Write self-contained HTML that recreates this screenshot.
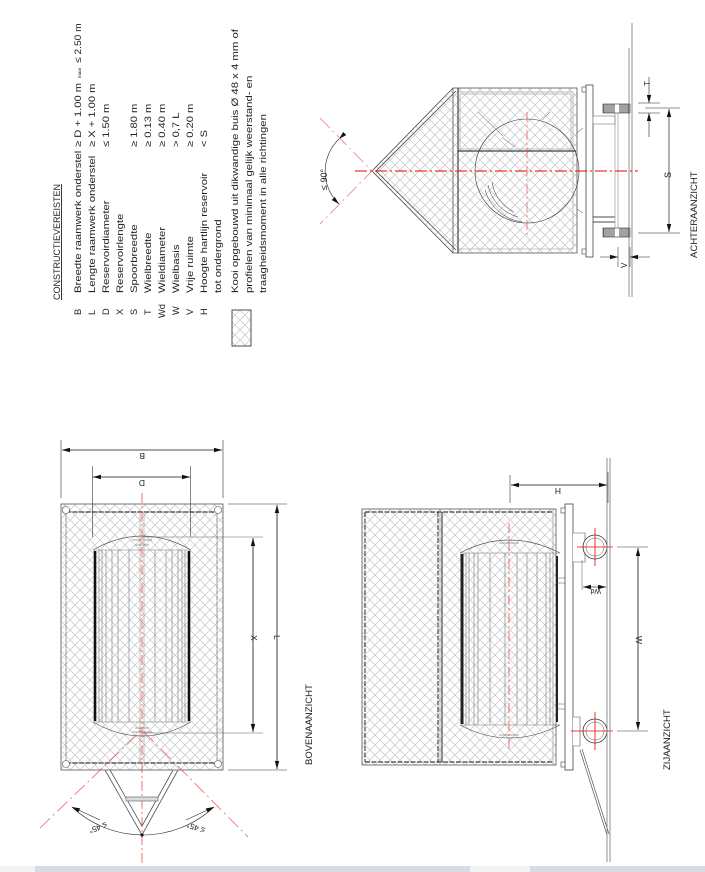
<!DOCTYPE html>
<html><head><meta charset="utf-8"><style>
html,body{margin:0;padding:0;background:#fff;}
svg{display:block;}
text{font-family:"Liberation Sans",sans-serif;fill:#222;}
</style></head><body>
<svg width="705" height="872" viewBox="0 0 705 872" xmlns="http://www.w3.org/2000/svg">
<defs>
<pattern id="h" width="10" height="10" patternUnits="userSpaceOnUse">
<path d="M0,0 L10,10 M10,0 L0,10" stroke="#c6c6c6" stroke-width="0.7" fill="none"/>
</pattern>
<marker id="a" markerWidth="8" markerHeight="6" refX="8" refY="3" orient="auto" markerUnits="userSpaceOnUse">
<path d="M0,0.8 L8,3 L0,5.2z" fill="#111"/>
</marker>
</defs>

<!-- ===== TEXT LEGEND ===== -->
<g font-size="9.3">
<text transform="translate(60,300) rotate(-90)" font-size="9" text-decoration="underline">CONSTRUCTIEVEREISTEN</text>
<g>
<text transform="translate(81,315) rotate(-90)">B</text>
<text transform="translate(95,315) rotate(-90)">L</text>
<text transform="translate(109,315) rotate(-90)">D</text>
<text transform="translate(123,315) rotate(-90)">X</text>
<text transform="translate(137,315) rotate(-90)">S</text>
<text transform="translate(151,315) rotate(-90)">T</text>
<text transform="translate(165,318) rotate(-90)">Wd</text>
<text transform="translate(179,315) rotate(-90)">W</text>
<text transform="translate(193,315) rotate(-90)">V</text>
<text transform="translate(207,315) rotate(-90)">H</text>
</g>
<g>
<text transform="translate(81,293) rotate(-90) scale(1.22,1)">Breedte raamwerk onderstel</text>
<text transform="translate(95,293) rotate(-90) scale(1.22,1)">Lengte raamwerk onderstel</text>
<text transform="translate(109,293) rotate(-90) scale(1.22,1)">Reservoirdiameter</text>
<text transform="translate(123,293) rotate(-90) scale(1.22,1)">Reservoirlengte</text>
<text transform="translate(137,293) rotate(-90) scale(1.22,1)">Spoorbreedte</text>
<text transform="translate(151,293) rotate(-90) scale(1.22,1)">Wielbreedte</text>
<text transform="translate(165,293) rotate(-90) scale(1.22,1)">Wieldiameter</text>
<text transform="translate(179,293) rotate(-90) scale(1.22,1)">Wielbasis</text>
<text transform="translate(193,293) rotate(-90) scale(1.22,1)">Vrije ruimte</text>
<text transform="translate(207,293) rotate(-90) scale(1.22,1)">Hoogte hartlijn reservoir</text>
<text transform="translate(221,293) rotate(-90) scale(1.22,1)">tot ondergrond</text>
<text transform="translate(238,293) rotate(-90) scale(1.22,1)">Kooi opgebouwd uit dikwandige buis Ø 48 x 4 mm of</text>
<text transform="translate(252,293) rotate(-90) scale(1.22,1)">profielen van minimaal gelijk weerstand- en</text>
<text transform="translate(266,293) rotate(-90) scale(1.22,1)">traagheidsmoment in alle richtingen</text>
</g>
<g>
<text transform="translate(81,147) rotate(-90) scale(1.2,1)">≥ D + 1.00 m</text>
<text transform="translate(81,78) rotate(-90)" font-size="4.5">maar</text>
<text transform="translate(81,63) rotate(-90) scale(1.1,1)">≤ 2.50 m</text>
<text transform="translate(95,147) rotate(-90) scale(1.2,1)">≥ X + 1.00 m</text>
<text transform="translate(109,147) rotate(-90) scale(1.2,1)">≤ 1.50 m</text>
<text transform="translate(137,147) rotate(-90) scale(1.2,1)">≥ 1.80 m</text>
<text transform="translate(151,147) rotate(-90) scale(1.2,1)">≥ 0.13 m</text>
<text transform="translate(165,147) rotate(-90) scale(1.2,1)">≥ 0.40 m</text>
<text transform="translate(179,147) rotate(-90) scale(1.2,1)">&gt; 0,7 L</text>
<text transform="translate(193,147) rotate(-90) scale(1.2,1)">≥ 0.20 m</text>
<text transform="translate(207,147) rotate(-90) scale(1.2,1)">&lt; S</text>
</g>
</g>
<rect x="232" y="310" width="19" height="36" fill="url(#h)" stroke="#222" stroke-width="0.8"/>

<!-- ===== ACHTERAANZICHT (rear view) ===== -->
<g>
<polygon points="372,171 453,88 453,253" fill="url(#h)"/>
<path d="M372,171 L453,88 M376,171 L456,91 M372,171 L453,253 M376,171 L456,250" stroke="#444" stroke-width="0.8" fill="none"/>
<rect x="453" y="88" width="124" height="165" fill="url(#h)" stroke="#555" stroke-width="0.8"/>
<rect x="458" y="92" width="115" height="157" fill="none" stroke="#aaa" stroke-width="0.7"/>
<rect x="460" y="94" width="111" height="55" fill="none" stroke="#999" stroke-width="0.6"/>
<path d="M458,88 L458,253 M458,151 L576,151" stroke="#111" stroke-width="0.9"/>
<circle cx="527" cy="171" r="52" fill="none" stroke="#333" stroke-width="0.6"/>
<path d="M485,190 A45,45 0 0 0 522,222 M488,185 A42,42 0 0 0 518,217 M492,182 A40,40 0 0 0 514,212" stroke="#333" stroke-width="0.5" fill="none"/>
<path d="M478,112 L503,136 M503,138 L515,147 M542,120 L550,112" stroke="#444" stroke-width="0.5"/>
<path d="M577,133 L583,128 M577,209 L583,213" stroke="#444" stroke-width="0.5"/>
<rect x="586" y="85" width="7" height="172" fill="#fff" stroke="#444" stroke-width="0.8"/>
<rect x="582" y="87" width="4" height="5" fill="#fff" stroke="#444" stroke-width="0.6"/>
<rect x="582" y="249" width="4" height="5" fill="#fff" stroke="#444" stroke-width="0.6"/>
<rect x="593" y="116" width="22" height="8" fill="#fff" stroke="#777" stroke-width="0.6"/>
<path d="M593,217 L615,217 M593,222 L615,222" stroke="#111" stroke-width="0.8"/>
<path d="M615,113 L615,228 M618,113 L618,228" stroke="#888" stroke-width="0.6"/>
<g stroke="#333" stroke-width="0.6">
<rect x="603" y="104" width="27" height="9" fill="#fff"/>
<rect x="603" y="228" width="27" height="9" fill="#fff"/>
<path d="M604,104v9M606,104v9M608,104v9M610,104v9M612,104v9M614,104v9M620,104v9M622,104v9M624,104v9M626,104v9M628,104v9M604,228v9M606,228v9M608,228v9M610,228v9M612,228v9M614,228v9M620,228v9M622,228v9M624,228v9M626,228v9M628,228v9" stroke-width="0.9"/>
</g>
<path d="M629,48 L629,297 M632,23 L632,297" stroke="#777" stroke-width="0.8"/>
<path d="M355,171 L638,171" stroke="#e00" stroke-width="1" stroke-dasharray="12,3,2,3"/>
<path d="M527,112 L527,235" stroke="#e33" stroke-width="0.6" stroke-dasharray="10,3,2,3"/>
<path d="M320,118 L372,171 L320,224" stroke="#f07070" stroke-width="0.7" stroke-dasharray="14,4,2,4" fill="none"/>
<path d="M339,139 A45,45 0 0 0 339,204" stroke="#222" stroke-width="0.6" fill="none" marker-start="url(#a)" marker-end="url(#a)"/>
<text transform="translate(327,190) rotate(-90)" font-size="9">≤ 90°</text>
<path d="M638,103 L660,103 M638,113 L660,113" stroke="#222" stroke-width="0.5"/>
<path d="M649,77 L649,103" stroke="#222" stroke-width="0.6" marker-end="url(#a)"/>
<path d="M649,137 L649,113" stroke="#222" stroke-width="0.6" marker-end="url(#a)"/>
<text transform="translate(650,86) rotate(-90)" font-size="8">T</text>
<path d="M645,108 L680,108 M638,233 L680,233" stroke="#222" stroke-width="0.6"/>
<path d="M669,175 L669,109" stroke="#222" stroke-width="0.7" marker-end="url(#a)"/>
<path d="M669,175 L669,232" stroke="#222" stroke-width="0.7" marker-end="url(#a)"/>
<text transform="translate(671,178) rotate(-90)" font-size="9">S</text>
<path d="M618,247 L618,267 M630,247 L630,267" stroke="#222" stroke-width="0.5"/>
<path d="M600,257 L618,257" stroke="#222" stroke-width="0.6" marker-end="url(#a)"/>
<path d="M650,257 L630,257" stroke="#222" stroke-width="0.6" marker-end="url(#a)"/>
<text transform="translate(627,268) rotate(-90)" font-size="8">V</text>
<text transform="translate(697,258) rotate(-90)" font-size="9.5">ACHTERAANZICHT</text>
</g>

<!-- ===== BOVENAANZICHT (top view) ===== -->
<g>
<rect x="61" y="504" width="162" height="266" fill="url(#h)" stroke="#555" stroke-width="0.8"/>
<rect x="66" y="512" width="151" height="251" fill="none" stroke="#aaa" stroke-width="0.8"/>
<path d="M66,512 L217,512 M66,763 L217,763" stroke="#111" stroke-width="1" stroke-dasharray="5,1.5"/>
<path d="M66,512 L66,763 M217,512 L217,763" stroke="#666" stroke-width="0.5" stroke-dasharray="4,2"/>
<g fill="#fff" stroke="#555" stroke-width="0.6">
<circle cx="66" cy="510" r="3.5"/><circle cx="218" cy="510" r="3.5"/>
<circle cx="66" cy="764" r="3.5"/><circle cx="218" cy="764" r="3.5"/>
</g>
<path d="M140,512 L140,763 M144,512 L144,763" stroke="#999" stroke-width="0.6"/>
<path d="M93,550 Q142,522 191,550 M93,722 Q142,750 191,722" stroke="#555" stroke-width="0.7" fill="none"/>
<path d="M95,551 L95,721 M189,551 L189,721" stroke="#111" stroke-width="2.6"/>
<g stroke="#777" stroke-width="0.6">
<path d="M93,550 L191,550 M93,722 L191,722"/>
<path d="M99,550v172M102,550v172M106,550v172M112,550v172M118,550v172M129,550v172M155,550v172M166,550v172M172,550v172M178,550v172M182,550v172M185,550v172"/>
</g>
<path d="M132,540 L152,540 M135,545 L149,545 M132,732 L152,732 M135,728 L149,728" stroke="#555" stroke-width="0.6"/>
<path d="M142,493 L142,867" stroke="#e33" stroke-width="0.7" stroke-dasharray="10,3,2,3"/>
<path d="M105,770 L142,835 L178,770 M110,770 L142,826 L173,770" stroke="#555" stroke-width="0.8" fill="none"/>
<rect x="126" y="797" width="32" height="4" fill="#ddd" stroke="#555" stroke-width="0.6"/>
<circle cx="142" cy="835" r="1.6" fill="#111"/>
<path d="M40,828 L142,730 L248,837" stroke="#f05050" stroke-width="0.7" stroke-dasharray="14,4,2,4" fill="none"/>
<path d="M72,807 A105,105 0 0 0 142,835 A105,105 0 0 0 214,807" stroke="#222" stroke-width="0.6" fill="none"/>
<path d="M100,820 L72,807" stroke="#222" stroke-width="0.6" marker-end="url(#a)"/>
<path d="M186,820 L214,807" stroke="#222" stroke-width="0.6" marker-end="url(#a)"/>
<text transform="translate(106,822) rotate(160)" font-size="8">≤ 45°</text>
<text transform="translate(188,822) rotate(-160)" font-size="8" text-anchor="end">≤ 45°</text>
<path d="M61,440 L61,498 M223,440 L223,498" stroke="#333" stroke-width="0.6"/>
<path d="M142,450 L62,450" stroke="#111" stroke-width="0.8" marker-end="url(#a)"/>
<path d="M142,450 L222,450" stroke="#111" stroke-width="0.8" marker-end="url(#a)"/>
<text transform="translate(145,453) rotate(180)" font-size="8.5">B</text>
<path d="M92.5,466 L92.5,537 M190.5,466 L190.5,537" stroke="#333" stroke-width="0.6"/>
<path d="M142,477 L93,477" stroke="#111" stroke-width="0.8" marker-end="url(#a)"/>
<path d="M142,477 L190,477" stroke="#111" stroke-width="0.8" marker-end="url(#a)"/>
<text transform="translate(145,480) rotate(180)" font-size="8.5">D</text>
<path d="M143,537 L263,537 M143,733 L263,733" stroke="#666" stroke-width="0.6"/>
<path d="M253,635 L253,538" stroke="#111" stroke-width="0.8" marker-end="url(#a)"/>
<path d="M253,635 L253,732" stroke="#111" stroke-width="0.8" marker-end="url(#a)"/>
<text transform="translate(251,635) rotate(90)" font-size="8.5">X</text>
<path d="M228,504 L287,504 M228,770 L287,770" stroke="#333" stroke-width="0.6"/>
<path d="M277,637 L277,505" stroke="#111" stroke-width="0.8" marker-end="url(#a)"/>
<path d="M277,637 L277,769" stroke="#111" stroke-width="0.8" marker-end="url(#a)"/>
<text transform="translate(274,635) rotate(90)" font-size="8.5">L</text>
<text transform="translate(312,765) rotate(-90)" font-size="9.5">BOVENAANZICHT</text>
</g>

<!-- ===== ZIJAANZICHT (side view) ===== -->
<g>
<rect x="362" y="509" width="194" height="256" fill="url(#h)" stroke="#555" stroke-width="0.8"/>
<path d="M365,512 L553,512 M365,762 L553,762 M365,512 L365,762 M438,512 L438,762" stroke="#111" stroke-width="0.9" stroke-dasharray="5,1.5"/>
<path d="M442,512 L442,762" stroke="#111" stroke-width="0.9"/>
<path d="M440,509 L440,765 M553,509 L553,765" stroke="#888" stroke-width="0.6"/>
<path d="M460,553 Q509,527 560,553 M460,725 Q509,751 560,725" stroke="#555" stroke-width="0.7" fill="none"/>
<path d="M462,554 L462,724" stroke="#222" stroke-width="3"/>
<path d="M557,556 L557,722" stroke="#222" stroke-width="2"/>
<g stroke="#777" stroke-width="0.6">
<path d="M460,553 L560,553 M460,725 L560,725"/>
<path d="M466,553v172M469,553v172M474,553v172M478,553v172M490,553v172M505,553v172M517,553v172M527,553v172M537,553v172M546,553v172M550,553v172"/>
</g>
<path d="M499,543 L519,543 M499,735 L519,735" stroke="#555" stroke-width="0.6"/>
<path d="M509,523 L509,750" stroke="#e33" stroke-width="0.7" stroke-dasharray="10,3,2,3"/>
<path d="M556,578 L565,578 M556,583 L565,583 M556,704 L565,704 M556,709 L565,709" stroke="#555" stroke-width="0.6"/>
<rect x="565" y="504" width="8" height="266" fill="#fff" stroke="#444" stroke-width="0.8"/>
<rect x="561" y="508" width="4" height="5" fill="#fff" stroke="#444" stroke-width="0.6"/>
<rect x="561" y="762" width="4" height="5" fill="#fff" stroke="#444" stroke-width="0.6"/>
<path d="M573,533 L585,533 L585,562 L573,562 M573,717 L580,717 L580,746 L573,746" stroke="#555" stroke-width="0.6" fill="#fff"/>
<circle cx="595" cy="547" r="12" fill="#fff" stroke="#333" stroke-width="0.8"/>
<circle cx="595" cy="547" r="9" fill="none" stroke="#555" stroke-width="0.5"/>
<circle cx="595" cy="731" r="12" fill="#fff" stroke="#333" stroke-width="0.8"/>
<circle cx="595" cy="731" r="9" fill="none" stroke="#555" stroke-width="0.5"/>
<path d="M595,528 L595,566 M577,547 L613,547 M595,712 L595,750 M571,731 L613,731" stroke="#e00" stroke-width="0.8"/>
<path d="M580,750 L607,835 M582,749 L609,834" stroke="#555" stroke-width="0.7"/>
<path d="M607,458 L607,862 M610,458 L610,862" stroke="#777" stroke-width="0.8"/>
<path d="M510,475 L510,503 M608,472 L608,503" stroke="#333" stroke-width="0.6"/>
<path d="M558,485 L511,485" stroke="#111" stroke-width="0.8" marker-end="url(#a)"/>
<path d="M558,485 L607,485" stroke="#111" stroke-width="0.8" marker-end="url(#a)"/>
<text transform="translate(561,488) rotate(180)" font-size="8.5">H</text>
<path d="M617,547 L648,547 M617,731 L648,731" stroke="#333" stroke-width="0.6"/>
<path d="M638,638 L638,548" stroke="#111" stroke-width="0.8" marker-end="url(#a)"/>
<path d="M638,638 L638,730" stroke="#111" stroke-width="0.8" marker-end="url(#a)"/>
<text transform="translate(636,636) rotate(90)" font-size="8.5">W</text>
<path d="M582,560 L582,590" stroke="#555" stroke-width="0.5"/>
<path d="M595,587 L583,587" stroke="#111" stroke-width="0.6" marker-end="url(#a)"/>
<path d="M595,587 L606,587" stroke="#111" stroke-width="0.6" marker-end="url(#a)"/>
<text transform="translate(601,589) rotate(180)" font-size="7">Wd</text>
<text transform="translate(670,770) rotate(-90)" font-size="9.5">ZIJAANZICHT</text>
</g>

<rect x="0" y="866" width="705" height="6" fill="#f1f2f4"/>
<rect x="35" y="866" width="435" height="6" fill="#d7dce3"/>
<rect x="530" y="866" width="175" height="6" fill="#d7dce3"/>
</svg>
</body></html>
